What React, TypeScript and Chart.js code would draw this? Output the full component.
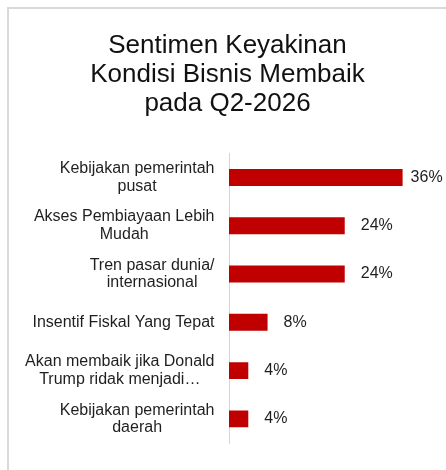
import React, { useEffect, useRef } from "react";
import { Chart, registerables } from "chart.js";

Chart.register(...registerables);

const titleLines = ["Sentimen Keyakinan", "Kondisi Bisnis Membaik", "pada Q2-2026"];
const categories: string[][] = [
  ["Kebijakan pemerintah", "pusat"],
  ["Akses Pembiayaan Lebih", "Mudah"],
  ["Tren pasar dunia/", "internasional"],
  ["Insentif Fiskal Yang Tepat"],
  ["Akan membaik jika Donald", "Trump ridak menjadi…"],
  ["Kebijakan pemerintah", "daerah"],
];
const values = [36, 24, 24, 8, 4, 4];

const FONT = "'Liberation Sans', Arial, sans-serif";
const TEXT_COLOR = "#1f1f1f";

const categoryLabelPlugin = {
  id: "categoryLabels",
  afterDraw(chart: any) {
    const ctx = chart.ctx;
    const scale = chart.scales.y;
    const right = scale.right - 14.5;
    const lh = 17.5;
    ctx.save();
    ctx.font = `16px ${FONT}`;
    ctx.fillStyle = TEXT_COLOR;
    ctx.textBaseline = "middle";
    ctx.textAlign = "center";
    categories.forEach((lines, i) => {
      const y = scale.getPixelForTick(i);
      const maxW = Math.max(...lines.map((l) => ctx.measureText(l).width));
      const cx = right - maxW / 2;
      lines.forEach((line, j) => {
        ctx.fillText(line, cx, y + (j - (lines.length - 1) / 2) * lh);
      });
    });
    ctx.restore();
  },
};

const valueLabelPlugin = {
  id: "barLabels",
  afterDatasetsDraw(chart: any) {
    const ctx = chart.ctx;
    const meta = chart.getDatasetMeta(0);
    ctx.save();
    ctx.font = `16px ${FONT}`;
    ctx.fillStyle = TEXT_COLOR;
    ctx.textBaseline = "middle";
    ctx.textAlign = "left";
    meta.data.forEach((bar: any, i: number) => {
      const text = `${values[i]}%`;
      const w = ctx.measureText(text).width;
      let x = bar.x + 16;
      if (x + w > chart.width - 2) x = bar.x + 8;
      ctx.fillText(text, x, bar.y);
    });
    ctx.restore();
  },
};

export default function App() {
  const ref = useRef<HTMLCanvasElement>(null);
  useEffect(() => {
    if (!ref.current) return;
    const chart = new Chart(ref.current, {
      type: "bar",
      data: {
        labels: categories,
        datasets: [
          {
            data: values,
            backgroundColor: "#c00000",
            barPercentage: 0.35,
            categoryPercentage: 1,
          },
        ],
      },
      options: {
        indexAxis: "y",
        animation: false,
        responsive: false,
        layout: { padding: { right: 0, bottom: 27, left: 0, top: 0 } },
        plugins: {
          legend: { display: false },
          tooltip: { enabled: false },
          title: {
            display: true,
            text: titleLines,
            color: "#111",
            font: { family: FONT, size: 26, weight: "normal", lineHeight: 1.12 },
            padding: { top: 22, bottom: 35 },
          },
        },
        scales: {
          x: { display: false, min: 0, max: 45 },
          y: {
            afterFit: (scale: any) => {
              scale.width = 220;
            },
            grid: { display: false, drawTicks: false },
            border: { display: true, color: "#d4d4d4", width: 1 },
            ticks: { display: false },
          },
        },
      },
      plugins: [valueLabelPlugin, categoryLabelPlugin],
    });
    return () => chart.destroy();
  }, []);
  return (
    <div
      style={{
        position: "absolute",
        top: 7,
        left: 7,
        width: 437,
        height: 461,
        borderTop: "2px solid #d9d9d9",
        borderLeft: "2px solid #d9d9d9",
      }}
    >
      <canvas ref={ref} width={437} height={461} style={{ display: "block" }} />
    </div>
  );
}
